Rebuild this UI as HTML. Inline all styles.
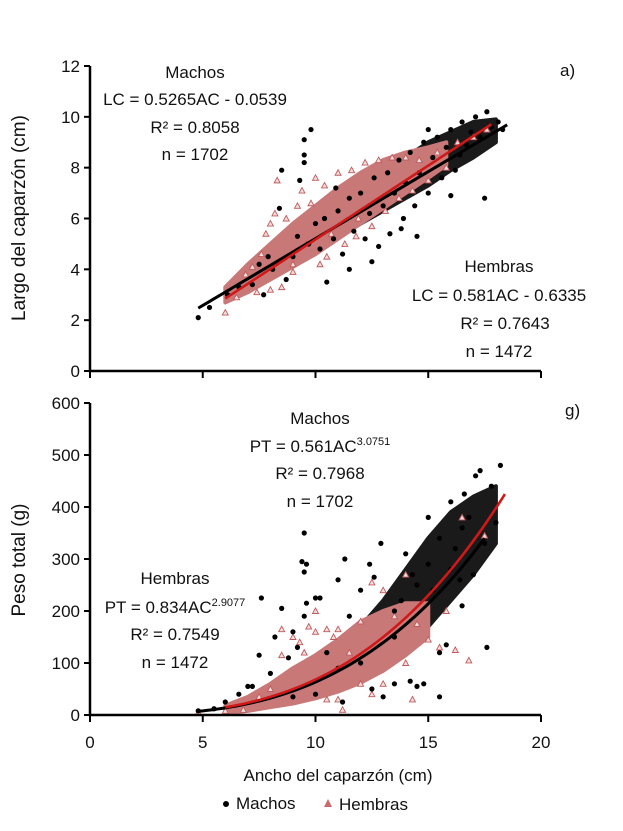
<!DOCTYPE html>
<html><head><meta charset="utf-8"><style>
html,body{margin:0;padding:0;background:#fff;}
svg{display:block;font-family:"Liberation Sans Narrow","Liberation Sans",sans-serif;}
</style></head><body>
<svg id="c" width="623" height="831" viewBox="0 0 623 831" xmlns="http://www.w3.org/2000/svg">
<g id="top"></g>
<g id="bot"></g>
<g font-size="17" fill="#111">
<text x="195" y="78" text-anchor="middle">Machos</text>
<text x="195" y="105" text-anchor="middle">LC = 0.5265AC - 0.0539</text>
<text x="195" y="133" text-anchor="middle">R² = 0.8058</text>
<text x="195" y="160" text-anchor="middle">n = 1702</text>
<text x="560" y="76">a)</text>
<text x="499" y="272" text-anchor="middle">Hembras</text>
<text x="499" y="301" text-anchor="middle">LC = 0.581AC - 0.6335</text>
<text x="505" y="329" text-anchor="middle">R² = 0.7643</text>
<text x="499" y="357" text-anchor="middle">n = 1472</text>
<text x="320" y="424" text-anchor="middle">Machos</text>
<text x="320" y="452" text-anchor="middle">PT = 0.561AC<tspan font-size="11" dy="-7">3.0751</tspan></text>
<text x="320" y="479" text-anchor="middle">R² = 0.7968</text>
<text x="320" y="507" text-anchor="middle">n = 1702</text>
<text x="175" y="584" text-anchor="middle">Hembras</text>
<text x="175" y="613" text-anchor="middle">PT = 0.834AC<tspan font-size="11" dy="-7">2.9077</tspan></text>
<text x="175" y="640" text-anchor="middle">R² = 0.7549</text>
<text x="175" y="668" text-anchor="middle">n = 1472</text>
<text x="565" y="416">g)</text>
<text x="338" y="781" text-anchor="middle">Ancho del caparzón (cm)</text>
<text transform="translate(25,218) rotate(-90)" text-anchor="middle" font-size="19">Largo del caparzón (cm)</text>
<text transform="translate(25,560) rotate(-90)" text-anchor="middle" font-size="19">Peso total (g)</text>
<g>
<circle cx="226" cy="804" r="3" fill="#000"/>
<text x="236" y="809">Machos</text>
<polygon points="328,799 332,807 324,807" fill="#c86a6a"/>
<text x="339" y="810">Hembras</text>
</g>
</g>
</svg>
<script>
const NS="http://www.w3.org/2000/svg";
// ---- panel a data ----
const aMachos=[[4.8,2.1],[5.3,2.5],[6.1,3.0],[6.6,3.3],[7.2,3.4],[7.7,3.0],[7.5,4.2],[7.9,4.5],[8.1,4.0],[8.4,6.4],[8.5,7.9],[8.7,3.6],[9.0,4.5],[9.2,5.3],[9.3,7.5],[9.5,8.2],[9.5,8.5],[9.5,9.1],[9.8,9.5],[9.7,5.0],[10.0,5.8],[10.2,4.8],[10.4,6.0],[10.5,3.5],[10.8,5.2],[11.0,6.3],[11.2,4.6],[11.5,6.8],[11.7,5.5],[12.0,7.0],[12.2,5.2],[12.4,6.2],[12.6,7.6],[12.8,4.9],[13.0,6.5],[13.2,7.8],[13.3,5.4],[13.5,7.0],[13.7,8.3],[13.9,6.0],[14.0,7.4],[14.2,8.6],[14.4,6.5],[14.6,7.8],[14.8,9.0],[15.0,7.0],[15.2,8.4],[15.4,9.2],[15.6,7.6],[15.8,8.8],[16.0,9.5],[16.2,7.9],[16.4,8.5],[16.5,9.8],[16.7,8.9],[16.9,9.4],[17.1,10.0],[17.3,9.2],[17.5,6.8],[17.6,10.2],[17.8,9.6],[18.1,9.8],[18.3,9.5],[14.5,5.3],[12.5,4.3],[11.5,4.0],[10.9,7.2],[16.0,6.9],[15.0,9.5],[13.8,5.6]];
const aHembras=[[6.0,2.3],[6.5,2.9],[6.9,3.8],[7.2,4.1],[7.4,3.1],[7.6,4.6],[7.8,5.4],[8.0,5.8],[8.2,6.2],[8.3,7.5],[8.5,3.3],[8.7,6.0],[9.0,4.2],[9.2,6.5],[9.4,7.1],[9.6,5.0],[9.8,6.6],[10.0,7.6],[10.2,4.2],[10.4,7.3],[10.7,5.4],[11.0,7.8],[11.3,5.0],[11.6,7.9],[11.9,6.0],[12.2,8.2],[12.5,5.7],[12.8,8.3],[13.1,6.3],[13.4,8.4],[13.7,6.8],[14.0,8.4],[14.3,7.1],[14.6,8.3],[15.0,7.5],[15.4,8.6],[15.8,8.0],[16.3,9.0],[17.0,9.2],[17.6,9.5],[9.0,3.9],[8.0,3.2],[10.5,4.5],[11.8,5.3]];
const aHBandX=[6,7,8,9,10,11,12,13,14,15,15.8];
const aHBandLo=[2.7,3.1,3.6,4.1,4.6,5.2,5.8,6.4,7.0,7.6,8.1];
const aHBandHi=[3.3,4.2,5.0,5.8,6.5,7.2,7.8,8.3,8.6,8.8,9.0];
const aMBandX=[8,10,12,14,15,16,17,18];
const aMBandLo=[3.8,4.8,5.8,6.8,7.3,7.9,8.4,9.0];
const aMBandHi=[4.6,5.8,7.0,8.4,9.0,9.4,9.8,9.9];
const aFitM=[0.5265,-0.0539,4.8,18.5];
const aFitH=[0.581,-0.6335,6.0,17.8];
const aYTicks=[0,2,4,6,8,10,12];
// ---- panel g data ----
const gMachos=[[4.8,8],[5.5,12],[6.0,25],[6.6,40],[7.0,55],[7.2,55],[7.6,225],[7.5,115],[8.0,80],[8.2,150],[8.5,205],[8.8,110],[9.0,160],[9.2,130],[9.5,350],[9.4,295],[9.6,290],[9.5,275],[9.6,215],[9.5,190],[10.0,225],[10.2,225],[10.5,120],[11.0,260],[11.3,300],[11.5,190],[11.2,25],[12.0,240],[12.4,290],[12.6,265],[12.9,330],[12.5,50],[13.0,35],[13.5,200],[13.5,60],[14.0,310],[14.2,65],[14.5,55],[14.8,60],[15.0,380],[15.2,240],[15.5,35],[15.5,120],[15.8,135],[16.0,410],[16.2,320],[16.4,260],[16.6,425],[16.8,380],[17.0,270],[17.1,460],[17.3,470],[17.5,330],[17.6,130],[17.8,440],[18.0,370],[18.2,480],[14.5,250],[15.0,290],[15.5,340],[16.0,280],[16.5,360],[13.8,220],[14.3,270],[12.0,100],[11.0,90],[10.0,40],[9.0,35],[13.5,150],[16.5,210]];
const gHembras=[[4.8,5],[6.0,8],[6.8,10],[7.5,35],[8.0,50],[8.5,165],[8.5,115],[9.0,150],[9.3,140],[9.5,120],[9.7,170],[10.0,200],[10.0,160],[10.5,165],[10.8,150],[11.0,165],[11.2,10],[11.0,30],[11.5,120],[12.0,180],[12.5,255],[12.5,40],[13.0,240],[13.5,190],[14.0,270],[14.3,30],[14.5,175],[15.0,145],[15.5,130],[15.8,200],[16.2,125],[16.8,105],[16.5,380],[17.5,345],[13.0,60],[14.0,100],[12.0,60],[10.5,30]];
const gHBandX=[6,7,8,9,10,11,12,13,14,15];
const gHBandLo=[3,8,15,22,32,45,62,85,115,150];
const gHBandHi=[18,35,60,90,115,145,180,200,215,215];
const gMBandX=[9,10,11,12,13,14,15,16,17,18];
const gMBandLo=[25,35,50,70,95,130,170,220,270,330];
const gMBandHi=[60,90,130,170,220,280,340,390,420,440];
const gFitM=[0.0634,3,4.8,17.5];
const gFitH=[0.0682,3,6.0,18.4];
const gYTicks=[0,100,200,300,400,500,600];
const xTicks=[0,5,10,15,20];

const X0=90,X1=541;
const sx=v=>X0+(v/20)*(X1-X0);
function mk(parent,tag,attrs){const e=document.createElementNS(NS,tag);for(const k in attrs)e.setAttribute(k,attrs[k]);parent.appendChild(e);return e;}
const PINK="#c97878",TRI="#c05a5a";
function panel(g,yTop,yBot,ymax,yticks,machos,hembras,mb,hb,fitM,fitH,power,showXLabels,tag){
  const sy=v=>yBot-(v/ymax)*(yBot-yTop);
  function band(xs,lo,hi,fill,name){
    let pts=xs.map((x,i)=>sx(x)+","+sy(hi[i]));
    for(let i=xs.length-1;i>=0;i--)pts.push(sx(xs[i])+","+sy(lo[i]));
    const p=mk(g,"polygon",{points:pts.join(" "),fill:fill,stroke:fill,"stroke-width":4,"stroke-linejoin":"round"});
    
    
  }
  band(mb[0],mb[1],mb[2],"#1a1a1a","machos-dense-"+tag);
  band(hb[0],hb[1],hb[2],PINK,"hembras-dense-"+tag);
  hembras.forEach(d=>{const x=sx(d[0]),y=sy(d[1]);
    const t=mk(g,"polygon",{points:`${x},${y-3} ${x+3},${y+2.5} ${x-3},${y+2.5}`,fill:"#f3dede",stroke:TRI,"stroke-width":"0.9"});
    
    
  });
  machos.forEach(d=>{
    const c=mk(g,"circle",{cx:sx(d[0]),cy:sy(d[1]),r:2.6,fill:"#000"});
    
    
  });
  function fit(p,col,w,name){
    let pts=[];for(let i=0;i<=60;i++){const x=p[2]+(p[3]-p[2])*i/60;const y=power?p[0]*Math.pow(x,p[1]):p[0]*x+p[1];pts.push(sx(x)+","+sy(y));}
    const l=mk(g,"polyline",{points:pts.join(" "),fill:"none",stroke:col,"stroke-width":w});
    
    
  }
  fit(fitM,"#000",3,"machos-fit-"+tag);
  fit(fitH,"#d01818",2.6,"hembras-fit-"+tag);
  const ax=mk(g,"path",{d:`M${X0},${yTop} V${yBot} H${X1}`,fill:"none",stroke:"#000","stroke-width":2.5});
  
  
  yticks.forEach(v=>{
    mk(g,"line",{x1:X0-6,x2:X0,y1:sy(v),y2:sy(v),stroke:"#000","stroke-width":2});
    const t=mk(g,"text",{x:X0-10,y:sy(v)+6,"text-anchor":"end","font-size":"17",fill:"#111"});
    t.textContent=v;
    
    
  });
  xTicks.forEach(v=>{
    mk(g,"line",{x1:sx(v),x2:sx(v),y1:yBot,y2:yBot+7,stroke:"#000","stroke-width":2});
    if(showXLabels){
      const t=mk(g,"text",{x:sx(v),y:yBot+33,"text-anchor":"middle","font-size":"17",fill:"#111"});
      t.textContent=v;
      
      
    }
  });
}
panel(document.getElementById("top"),66,371,12,aYTicks,aMachos,aHembras,[aMBandX,aMBandLo,aMBandHi],[aHBandX,aHBandLo,aHBandHi],aFitM,aFitH,false,false,"a");
panel(document.getElementById("bot"),403,715,600,gYTicks,gMachos,gHembras,[gMBandX,gMBandLo,gMBandHi],[gHBandX,gHBandLo,gHBandHi],gFitM,gFitH,true,true,"g");
</script>
</body></html>
